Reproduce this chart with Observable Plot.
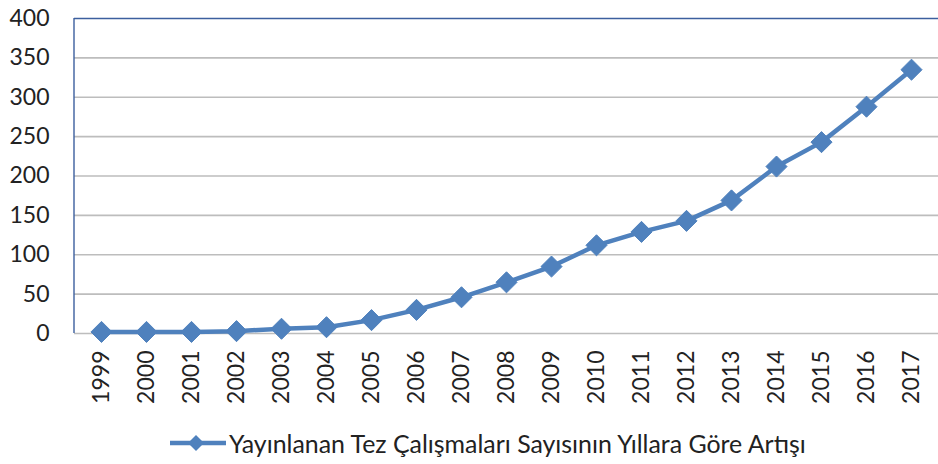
<!DOCTYPE html>
<html>
<head>
<meta charset="utf-8">
<script src="https://cdn.jsdelivr.net/npm/d3@7"></script>
<script src="https://cdn.jsdelivr.net/npm/@observablehq/plot@0.6"></script>
<style>
  body { margin: 0; background: #fff; font-family: Lato, "Open Sans", sans-serif; }
  #legend { display: flex; align-items: center; height: 46px; margin-left: 170px; color: #222; font-size: 24.9px; }
  #legend svg { margin-right: 3px; }
</style>
</head>
<body>
<div id="chart"></div>
<div id="legend"></div>
<script>
const years = ["1999","2000","2001","2002","2003","2004","2005","2006","2007","2008","2009","2010","2011","2012","2013","2014","2015","2016","2017"];
const counts = [2, 2, 2, 3, 6, 8, 17, 30, 46, 65, 85, 112, 129, 143, 169, 212, 243, 288, 335];
const yTicks = [0, 50, 100, 150, 200, 250, 300, 350, 400];
const seriesName = "Yayınlanan Tez Çalışmaları Sayısının Yıllara Göre Artışı";
const lineColor = "#4F81BD";

const data = years.map((y, i) => ({year: y, value: counts[i]}));

const chart = Plot.plot({
  width: 938,
  height: 420,
  marginLeft: 74,
  marginRight: 0,
  marginTop: 18,
  marginBottom: 87,
  style: {fontFamily: "Lato, 'Open Sans', sans-serif", fontSize: "23px", color: "#222", background: "#fff"},
  x: {type: "point", domain: years, padding: 0.5, label: null},
  y: {domain: [0, 400], ticks: yTicks, label: null},
  marks: [
    Plot.ruleY(yTicks.filter(d => d < 400), {stroke: "#BDBDBD", strokeWidth: 1.6, strokeOpacity: 1}),
    Plot.ruleY([400], {stroke: "#3C5F9E", strokeWidth: 1.4}),
    Plot.axisY({ticks: yTicks, tickSize: 0, tickPadding: 25, label: null, fontSize: 23}),
    Plot.axisX({tickSize: 0, tickPadding: 17, tickRotate: -90, label: null, fontSize: 23}),
    Plot.line(data, {x: "year", y: "value", stroke: lineColor, strokeWidth: 4.5}),
    Plot.dot(data, {x: "year", y: "value", symbol: "diamond2", r: 9.5, fill: lineColor, stroke: lineColor, strokeWidth: 1})
  ]
});
document.getElementById("chart").appendChild(chart);

// left frame line at the plot's left edge
const svg = d3.select(chart.tagName === "svg" ? chart : chart.querySelector("svg"));
svg.append("line").attr("x1", 74).attr("x2", 74).attr("y1", 18).attr("y2", 333)
  .attr("stroke", "#3C5F9E").attr("stroke-width", 1.4);

// legend
const leg = d3.select("#legend");
const ls = leg.append("svg").attr("width", 56).attr("height", 20);
ls.append("line").attr("x1", 0).attr("x2", 56).attr("y1", 10).attr("y2", 10).attr("stroke", lineColor).attr("stroke-width", 4.5);
ls.append("path").attr("d", "M26,2L34,10L26,18L18,10Z").attr("fill", lineColor);
leg.append("span").text(seriesName);
</script>
</body>
</html>
